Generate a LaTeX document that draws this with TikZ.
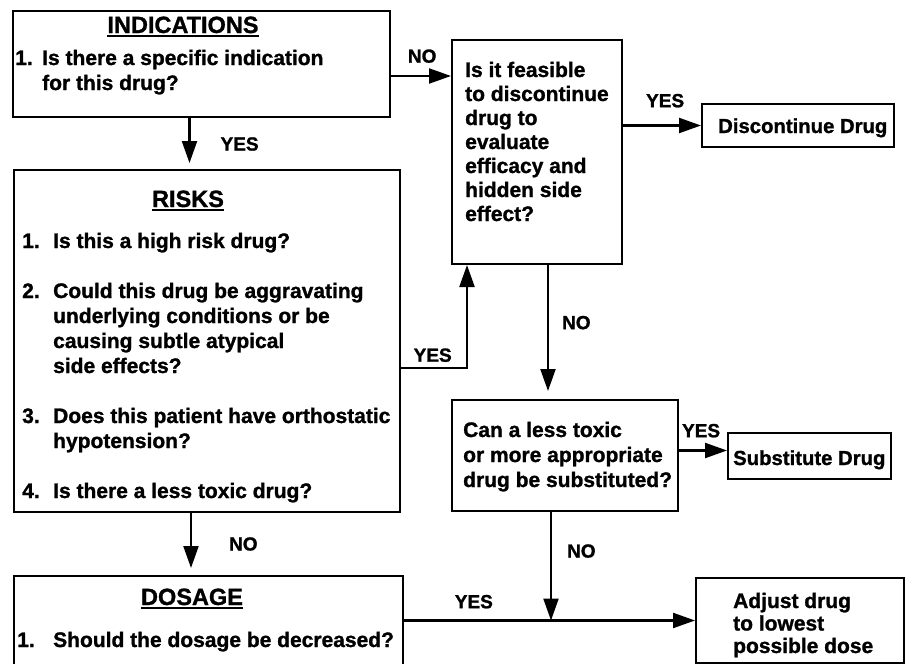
\documentclass[tikz,border=0pt]{standalone}
\usepackage{fontspec}
\setmainfont{Liberation Sans}[BoldFeatures={FakeBold=1.2}]
\usetikzlibrary{arrows.meta}
\usetikzlibrary{positioning}
\newcommand{\qfont}{\fontsize{21}{25}\selectfont\bfseries}
\newcommand{\qfontnarrow}{\fontsize{21}{24}\selectfont\bfseries}
\newcommand{\qfonttight}{\fontsize{21}{22.5}\selectfont\bfseries}
\newcommand{\qfontsmall}{\fontsize{20.3}{24}\selectfont\bfseries}
\newcommand{\titlefont}{\fontsize{23.5}{28}\selectfont\bfseries}
\newcommand{\answerfont}{\fontsize{19}{22}\selectfont\bfseries}
\newcommand{\boxtitle}[1]{\setbox0\hbox{#1}\rlap{\rule[-4pt]{\wd0}{1.6pt}}\box0}
\tikzset{
    frame/.style={draw, rectangle, line width=2pt, anchor=north west, inner sep=0pt},
    boxtext/.style={anchor=base west, inner sep=0pt, font=\qfont},
    boxtitle/.style={anchor=base, inner sep=0pt, font=\titlefont},
    flow/.style={line width=2.2pt, -{Triangle[length=22pt, width=15pt]}},
    answer/.style={inner sep=0pt, font=\answerfont}
}

\begin{document}
\begin{tikzpicture}[x=1pt, y=-1pt]
    \clip (0,0) rectangle (911,664);

    % boxes
    \node[frame, minimum width=377pt, minimum height=106pt] (ind) at (12,10) {};
    \node[frame, minimum width=386pt, minimum height=342pt] (risks) at (13,169) {};
    \node[frame, minimum width=389pt, minimum height=95pt] (dosage) at (13,575) {};
    \node[frame, minimum width=170pt, minimum height=224pt] (feasible) at (451,39) {};
    \node[frame, minimum width=192pt, minimum height=43pt] (disc) at (701,103) {};
    \node[frame, minimum width=226pt, minimum height=111pt] (subq) at (451,399) {};
    \node[frame, minimum width=163pt, minimum height=46pt] (subst) at (727,432) {};
    \node[frame, minimum width=208pt, minimum height=85pt] (adjust) at (695,577) {};

    % box contents
    \node[boxtitle] (ind-title) at (183,33) {\boxtitle{INDICATIONS}};
    \node[boxtext] (ind-text) at (15,65) {\begin{tabular}[t]{@{}p{27pt}@{}l@{}}
        1. & Is there a specific indication\\
           & for this drug?
    \end{tabular}};
    \node[boxtitle] (risks-title) at (188,207) {\boxtitle{RISKS}};
    \node[boxtext] (risks-text) at (22,248) {\begin{tabular}[t]{@{}p{31pt}@{}l@{}}
        1. & Is this a high risk drug?\\[25pt]
        2. & Could this drug be aggravating\\
           & underlying conditions or be\\
           & causing subtle atypical\\
           & side effects?\\[25pt]
        3. & Does this patient have orthostatic\\
           & hypotension?\\[25pt]
        4. & Is there a less toxic drug?
    \end{tabular}};
    \node[boxtitle] (dosage-title) at (192,605) {\boxtitle{DOSAGE}};
    \node[boxtext] (dosage-text) at (17,647) {\begin{tabular}[t]{@{}p{36pt}@{}l@{}}
        1. & Should the dosage be decreased?
    \end{tabular}};
    \node[boxtext, font=\qfontnarrow] (feasible-text) at (465,77) {\begin{tabular}[t]{@{}l@{}}
        Is it feasible\\ to discontinue\\ drug to\\ evaluate\\ efficacy and\\ hidden side\\ effect?
    \end{tabular}};
    \node[boxtext, font=\qfontsmall] (disc-text) at (718,133) {Discontinue Drug};
    \node[boxtext] (subq-text) at (463,437) {\begin{tabular}[t]{@{}l@{}}
        Can a less toxic\\ or more appropriate\\ drug be substituted?
    \end{tabular}};
    \node[boxtext, font=\qfontsmall] (subst-text) at (733,465) {Substitute Drug};
    \node[boxtext, font=\qfonttight] (adjust-text) at (733,608) {\begin{tabular}[t]{@{}l@{}}
        Adjust drug\\ to lowest\\ possible dose
    \end{tabular}};

    % connectors
    \coordinate (ind-yes) at ([xshift=-12pt]ind.south);
    \coordinate (ind-no) at ([yshift=-12pt]ind.east);
    \coordinate (risks-yes) at ([yshift=-27pt]risks.east);
    \coordinate (risks-no) at ([xshift=-16pt]risks.south);
    \coordinate (feas-no) at ([xshift=11pt]feasible.south);
    \coordinate (subq-yes) at ([yshift=5pt]subq.east);
    \coordinate (subq-no) at ([xshift=-14pt]subq.south);
    \coordinate (dose-yes) at (adjust.west -| dosage.east);

    \draw[flow, shorten >=6pt] (ind-yes) -- (ind-yes |- risks.north)
        node[answer, pos=.51, right=30pt] {YES};
    \draw[flow] (ind-no) -- (ind-no -| feasible.west)
        node[answer, pos=.52, above=12pt] {NO};
    \draw[flow] (disc.west -| feasible.east) -- (disc.west)
        node[answer, pos=.54, above=17pt] {YES};
    \draw[flow] (risks-yes) -| ([xshift=16pt]feasible.south west)
        node[answer, pos=.24, above=5pt] {YES};
    \draw[flow, shorten >=8pt] (feas-no) -- (feas-no |- subq.north)
        node[answer, pos=.43, right=13pt] {NO};
    \draw[flow] (subq-yes) -- (subq-yes -| subst.west)
        node[answer, pos=.46, above=12pt] {YES};
    \draw[flow, shorten >=7pt] (risks-no) -- (risks-no |- dosage.north)
        node[answer, pos=.5, right=37pt] {NO};
    \draw[flow] (subq-no) -- (subq-no |- dose-yes)
        node[answer, pos=.36, right=15pt] {NO};
    \draw[flow] (dose-yes) -- (adjust.west)
        node[answer, pos=.24, above=11pt] {YES};
\end{tikzpicture}
\end{document}
